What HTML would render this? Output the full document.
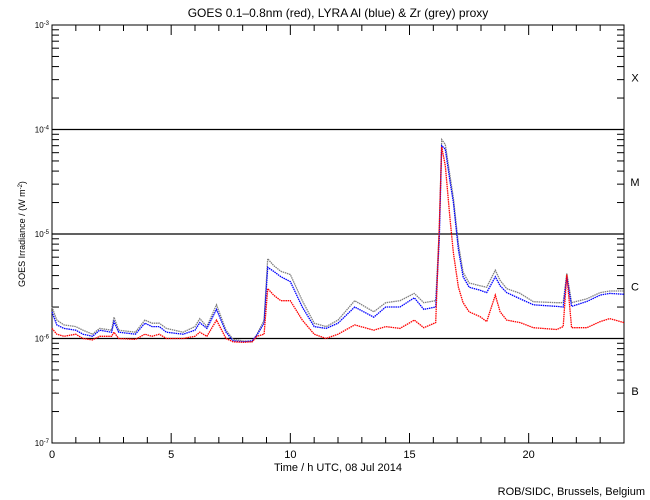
<!DOCTYPE html>
<html><head><meta charset="utf-8"><style>
body{margin:0;background:#fff;}
svg{display:block;font-family:"Liberation Sans",sans-serif;}
</style></head><body>
<svg id="chart" width="650" height="500" viewBox="0 0 650 500">
<rect x="0" y="0" width="650" height="500" fill="#fff"/>
<text x="338" y="17" font-size="12" text-anchor="middle">GOES 0.1–0.8nm (red), LYRA Al (blue) &amp; Zr (grey) proxy</text>
<text x="338" y="471" font-size="11" text-anchor="middle">Time / h UTC, 08 Jul 2014</text>
<text x="0" y="0" font-size="9" text-anchor="middle" transform="translate(25,234) rotate(-90)">GOES Irradiance / (W m<tspan baseline-shift="super" font-size="6">-2</tspan>)</text>
<text x="645" y="495" font-size="11" text-anchor="end">ROB/SIDC, Brussels, Belgium</text>
<g id="axes"></g>
<g id="series"></g>
</svg>
<script>
// data (irradiance in units of 1e-6 W m^-2)
const hours = [0,0.2,0.5,1.0,1.3,1.7,2.0,2.5,2.6,2.8,3.5,3.9,4.2,4.5,4.8,5.5,6.0,6.2,6.5,6.9,7.3,7.6,8.0,8.4,8.6,8.9,9.05,9.3,9.6,10.0,10.5,11.0,11.5,12.0,12.7,13.5,14.0,14.6,15.2,15.6,16.1,16.25,16.35,16.5,16.7,16.84,17.05,17.25,17.5,17.96,18.24,18.6,18.8,19.08,19.64,20.2,21.18,21.45,21.6,21.8,22.44,23.0,23.4,24];
const goesRed = [1.25,1.1,1.05,1.1,1.0,0.97,1.05,1.05,1.15,1.0,0.98,1.1,1.05,1.1,1.0,1.0,1.05,1.15,1.05,1.5,1.0,0.93,0.92,0.93,1.05,1.1,3.0,2.6,2.3,2.3,1.5,1.1,1.0,1.1,1.35,1.2,1.3,1.25,1.5,1.27,1.42,12,68,45,14,6.6,3.1,2.2,1.8,1.62,1.45,2.6,1.8,1.5,1.42,1.27,1.22,1.3,4.1,1.27,1.27,1.45,1.55,1.42];
const lyraBlue = [1.8,1.35,1.25,1.2,1.1,1.05,1.2,1.15,1.45,1.15,1.1,1.4,1.3,1.3,1.15,1.1,1.2,1.42,1.25,1.9,1.15,0.95,0.93,0.95,1.08,1.4,4.8,4.4,3.9,3.5,2.0,1.3,1.25,1.4,2.0,1.6,2.0,2.0,2.45,1.9,2.0,9,70,65,32,20,7.1,3.9,3.1,2.9,2.75,3.9,3.2,2.75,2.4,2.1,2.03,2.0,3.9,2.03,2.26,2.6,2.7,2.65];
const zrGrey = [2.0,1.5,1.35,1.3,1.2,1.1,1.25,1.2,1.6,1.2,1.15,1.5,1.4,1.4,1.25,1.15,1.3,1.55,1.3,2.1,1.2,0.98,0.95,0.93,1.1,1.5,5.8,5.0,4.4,4.1,2.3,1.4,1.3,1.5,2.3,1.8,2.2,2.3,2.7,2.2,2.3,11,80,72,36,22,8,4.3,3.4,3.2,3.1,4.5,3.6,3.0,2.7,2.25,2.2,2.2,4.2,2.2,2.4,2.75,2.85,2.85];
const xTickLabels = ["0","5","10","15","20"];
const yDecades = [-7,-6,-5,-4,-3];
const classLabels = ["B","C","M","X"];

const L=52,R=624,T=25,B=443;
const xs=h=>L+(h/24)*(R-L);
const ys=v=>B-(Math.log10(v*1e-6)+7)/4*(B-T);
const NS="http://www.w3.org/2000/svg";
function mk(tag,attrs,parent){const e=document.createElementNS(NS,tag);for(const k in attrs)e.setAttribute(k,attrs[k]);parent.appendChild(e);return e;}
const ax=document.getElementById('axes');
let frame=mk('rect',{x:L,y:T,width:R-L,height:B-T,fill:'none',stroke:'#000','stroke-width':1},ax);


// x ticks
for(let h=0;h<=24;h++){
  const x=xs(h), len=(h%5===0)?10:6;
  let t1=mk('line',{x1:x,x2:x,y1:B,y2:B-len,stroke:'#000'},ax);
  
  
  let t2=mk('line',{x1:x,x2:x,y1:T,y2:T+len,stroke:'#000'},ax);
  
  
}
xTickLabels.forEach(s=>{
  let t=mk('text',{x:xs(+s),y:B+15,'font-size':11,'text-anchor':'middle'},ax);t.textContent=s;
  
  
});
// y decades
yDecades.forEach((d,i)=>{
  const y=ys(Math.pow(10,d+6));
  let lab=mk('text',{x:L-3,y:y+3,'font-size':8,'text-anchor':'end'},ax);
  lab.innerHTML='10<tspan baseline-shift="super" font-size="6">'+d+'</tspan>';
  
  
  if(d>-7&&d<-3){
    let gl=mk('line',{x1:L,x2:R,y1:y,y2:y,stroke:'#000','stroke-width':1.3},ax);
    
    
  }
  if(d<-3){
    for(let m=2;m<=9;m++){
      const yy=ys(m*Math.pow(10,d+6));
      let a=mk('line',{x1:L,x2:L+7,y1:yy,y2:yy,stroke:'#000'},ax);
      
      
      let b=mk('line',{x1:R,x2:R-7,y1:yy,y2:yy,stroke:'#000'},ax);
      
      
    }
    let c=mk('text',{x:635,y:ys(Math.pow(10,d+6.5))+4,'font-size':11,'text-anchor':'middle'},ax);
    c.textContent=classLabels[i];
    
    
  }
});
// series
const sg=document.getElementById('series');
[[zrGrey,'#808080','zr-grey-series'],[lyraBlue,'#0000ff','lyra-al-blue-series'],[goesRed,'#ff0000','goes-red-series']].forEach(([arr,col,name])=>{
  const pts=hours.map((h,i)=>xs(h).toFixed(1)+','+ys(arr[i]).toFixed(1)).join(' ');
  let p=mk('polyline',{points:pts,fill:'none',stroke:col,'stroke-width':1.3,'stroke-dasharray':'1.5 0.7'},sg);
  
  
});
</script>
</body></html>
